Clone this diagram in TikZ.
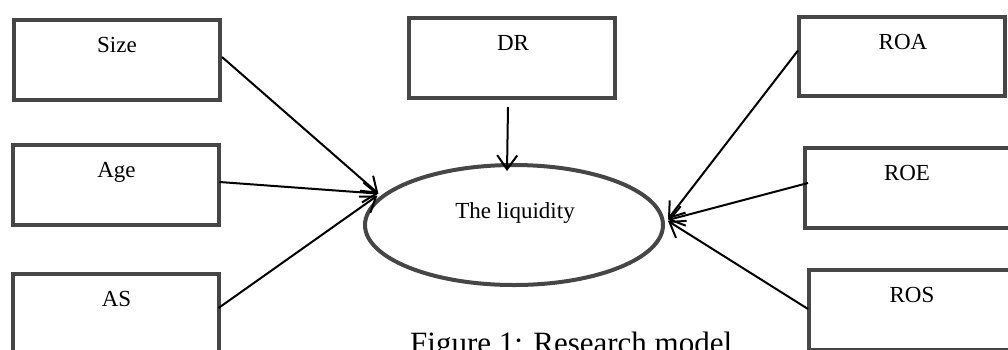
\documentclass[tikz,border=0pt]{standalone}
\usepackage{fontspec}
\setmainfont{Liberation Serif}
\usetikzlibrary{arrows.meta,shapes.geometric,calc}
\definecolor{bord}{RGB}{70,70,70}
\begin{document}
\begin{tikzpicture}[x=1pt,y=-1pt,
  box/.style={draw=bord, line width=4pt, minimum width=206pt, minimum height=80pt, inner sep=0pt},
  lbl/.style={anchor=base, inner sep=0pt, font=\fontsize{23}{27}\selectfont},
  oval/.style={ellipse, draw=bord, line width=4pt, minimum width=298pt, minimum height=120pt, inner sep=0pt},
  arr/.style={-{Straight Barb[length=14pt,width=20pt]}, line width=2pt, black}]
\useasboundingbox (0,0) rectangle (1008,349);
\clip (0,0) rectangle (1008,349);
% boxes
\node[box] (size) at (117,60) {};
\node[box] (age) at (115.5,185) {};
\node[box] (as) at (115.5,314) {};
\node[box] (dr) at (512,58) {};
\node[box, minimum height=79pt] (roa) at (902,56.5) {};
\node[box] (roe) at (908,188) {};
\node[box] (ros) at (912,310) {};
% labels
\node[lbl] (sizeT) at ($(size.north)+(0,34)$) {Size};
\node[lbl] (ageT) at ($(age.north)+(1,34)$) {Age};
\node[lbl] (asT) at ($(as.north)+(1,34)$) {AS};
\node[lbl] (drT) at ($(dr.north)+(1,34)$) {DR};
\node[lbl] (roaT) at ($(roa.north)+(1,34)$) {ROA};
\node[lbl] (roeT) at ($(roe.north)+(-1,34)$) {ROE};
\node[lbl] (rosT) at ($(ros.north)+(0,34)$) {ROS};
% ellipse
\node[oval] (liq) at (514,225) {};
\node[lbl] (liqT) at (515,218) {The liquidity};
% arrows
\draw[arr] ($(size.east)+(0,-3)$) -- ($(liq.167)+(-4,-1)$);
\draw[arr] ($(age.east)+(-1,-3)$) -- ($(liq.167)+(-4,-1)$);
\draw[arr] ($(as.east)+(-2,-6)$) -- ($(liq.167)+(-5,1)$);
\draw[arr] ($(dr.south)+(-4,7)$) -- ($(liq.north)+(-7,8)$);
\draw[arr] ($(roa.west)+(1,-6)$) -- ($(liq.east)+(3,-6)$);
\draw[arr] ($(roe.west)+(5,-5)$) -- ($(liq.east)+(3,-5)$);
\draw[arr] ($(ros.west)+(1,-1)$) -- ($(liq.east)+(3,-4)$);
% caption
\node[anchor=base west, inner sep=0pt, font=\fontsize{31}{36}\selectfont] (cap) at (410,353) {Figure 1: Research model};
\end{tikzpicture}
\end{document}
